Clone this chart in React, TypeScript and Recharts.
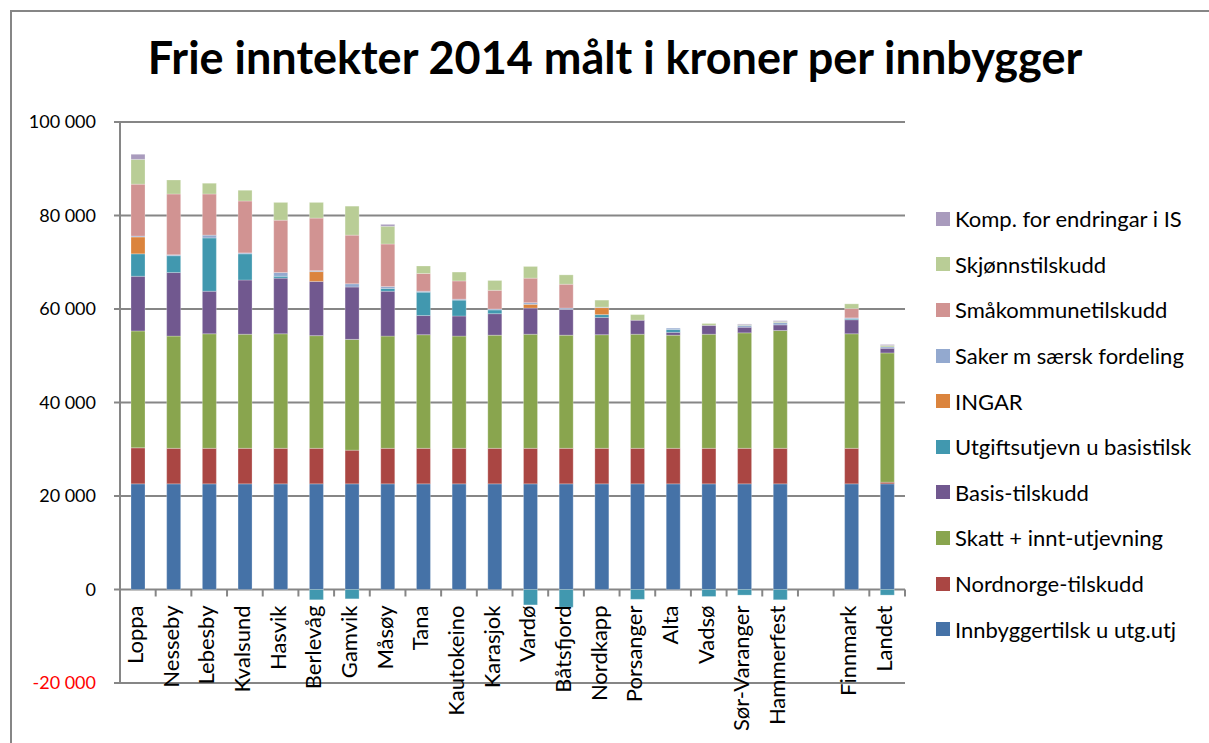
import React from 'react';
import { BarChart, Bar, XAxis, YAxis, CartesianGrid, Legend } from 'recharts';

// Kategorier (tomt felt mellom Hammerfest og Finnmark)
const kommuner = [
  'Loppa', 'Nesseby', 'Lebesby', 'Kvalsund', 'Hasvik', 'Berlevåg', 'Gamvik', 'Måsøy', 'Tana',
  'Kautokeino', 'Karasjok', 'Vardø', 'Båtsfjord', 'Nordkapp', 'Porsanger', 'Alta', 'Vadsø',
  'Sør-Varanger', 'Hammerfest', '', 'Finnmark', 'Landet',
];

const innbyggertilsk = [22600, 22600, 22600, 22600, 22600, 22600, 22600, 22600, 22600, 22600, 22600, 22600, 22600, 22600, 22600, 22600, 22600, 22600, 22600, null, 22600, 22600];
const nordnorge = [7700, 7600, 7600, 7600, 7600, 7600, 7200, 7600, 7600, 7600, 7600, 7600, 7600, 7600, 7600, 7600, 7600, 7600, 7600, null, 7600, 350];
const skatt = [25000, 24000, 24500, 24400, 24500, 24100, 23700, 24000, 24300, 24000, 24200, 24400, 24200, 24300, 24400, 24200, 24400, 24700, 25200, null, 24500, 27650];
const basis = [11700, 13600, 9100, 11600, 11900, 11600, 11200, 9600, 4100, 4300, 4600, 5600, 5500, 3700, 3000, 600, 1900, 1200, 1200, null, 3000, 1000];
const utgiftsutjevn = [4800, 3600, 11400, 5600, 400, -2200, -2000, 600, 5000, 3400, 800, -3300, -3800, 600, -2100, 600, -1500, -1200, -2200, null, 200, -1200];
const ingar = [3600, 0, 0, 0, 0, 2100, 0, 0, 0, 0, 0, 800, 0, 1500, 0, 0, 0, 0, 0, null, 0, 0];
const saker = [200, 200, 600, 200, 800, 200, 700, 400, 200, 200, 200, 350, 300, 100, 0, 300, 0, 400, 500, null, 200, 300];
const smakommune = [11100, 13000, 8800, 11100, 11200, 11250, 10400, 9100, 3800, 3900, 4000, 5250, 5100, 0, 0, 0, 0, 0, 0, null, 2000, 0];
const skjonn = [5300, 3000, 2300, 2300, 3800, 3350, 6200, 3800, 1600, 1900, 2100, 2500, 2000, 1500, 1200, 0, 400, 150, 200, null, 1000, 300];
const komp = [1100, 0, 0, 0, 0, 0, 0, 400, 0, 0, 0, 0, 0, 0, 0, 0, 0, 150, 200, null, 0, 200];

const yTicks = [-20000, 0, 20000, 40000, 60000, 80000, 100000];

const series = [
  { key: 'innbyggertilsk', name: 'Innbyggertilsk u utg.utj', color: '#4572A7', values: innbyggertilsk },
  { key: 'nordnorge', name: 'Nordnorge-tilskudd', color: '#AA4643', values: nordnorge },
  { key: 'skatt', name: 'Skatt + innt-utjevning', color: '#89A54E', values: skatt },
  { key: 'basis', name: 'Basis-tilskudd', color: '#71588F', values: basis },
  { key: 'utgiftsutjevn', name: 'Utgiftsutjevn u basistilsk', color: '#4198AF', values: utgiftsutjevn },
  { key: 'ingar', name: 'INGAR', color: '#DB843D', values: ingar },
  { key: 'saker', name: 'Saker m særsk fordeling', color: '#93A9CF', values: saker },
  { key: 'smakommune', name: 'Småkommunetilskudd', color: '#D19392', values: smakommune },
  { key: 'skjonn', name: 'Skjønnstilskudd', color: '#B9CD96', values: skjonn },
  { key: 'komp', name: 'Komp. for endringar i IS', color: '#A99BBD', values: komp },
];

const data = kommuner.map((navn, i) => {
  const row: Record<string, any> = { navn };
  series.forEach((s) => { row[s.key] = s.values[i]; });
  return row;
});

const FONT = 'Lato, "Liberation Sans", sans-serif';
const PLOT_LEFT = 120;
const PLOT_RIGHT = 905;
const PLOT_TOP = 122;
const PLOT_BOTTOM = 683;
const BAND = (PLOT_RIGHT - PLOT_LEFT) / kommuner.length;
const ZERO_Y = PLOT_TOP + (100000 / 120000) * (PLOT_BOTTOM - PLOT_TOP);

const fmt = (v: number) => {
  const s = Math.abs(v).toString().replace(/\B(?=(\d{3})+(?!\d))/g, ' ');
  return v < 0 ? `-${s}` : s;
};

const YTick = (props: any) => {
  const { y, payload } = props;
  return (
    <text x={PLOT_LEFT - 24} y={y + 6} textAnchor="end" fontSize={18} fontFamily={FONT}
      fill={payload.value < 0 ? '#FF0000' : '#000'}>
      {fmt(payload.value)}
    </text>
  );
};

// Etikettene henger fra nullinja, ikke fra bunnen av plottet
const XTick = (props: any) => {
  const { x, payload, index } = props;
  const left = x - BAND / 2;
  return (
    <g>
      <line x1={left} x2={left} y1={ZERO_Y} y2={ZERO_Y + 7} stroke="#868686" strokeWidth={2} />
      {index === kommuner.length - 1 && (
        <line x1={x + BAND / 2} x2={x + BAND / 2} y1={ZERO_Y} y2={ZERO_Y + 7} stroke="#868686" strokeWidth={2} />
      )}
      <text transform={`translate(${x + 5},${ZERO_Y + 16}) rotate(-90)`} textAnchor="end"
        fontSize={22} fontFamily={FONT} fill="#000">
        {payload.value}
      </text>
    </g>
  );
};

const LegendContent = () => (
  <div style={{ fontFamily: FONT, fontSize: 22, color: '#000' }}>
    {[...series].reverse().map((s) => (
      <div key={s.key} style={{ display: 'flex', alignItems: 'center', height: 45.6 }}>
        <span style={{ width: 14, height: 14, background: s.color, display: 'inline-block', marginRight: 5 }} />
        <span style={{ whiteSpace: 'nowrap' }}>{s.name}</span>
      </div>
    ))}
  </div>
);

export default function App() {
  return (
    <div style={{ position: 'absolute', left: 0, top: 0, width: 1209, height: 743, background: '#fff', overflow: 'hidden' }}>
      <div style={{ position: 'absolute', left: 10, top: 10, width: 1220, height: 760, border: '2px solid #868686', boxSizing: 'border-box' }} />
      <div style={{ position: 'absolute', left: 0, top: 30, width: 1230, textAlign: 'center', fontFamily: FONT, fontWeight: 700, fontSize: 45, color: '#000' }}>
        Frie inntekter 2014 målt i kroner per innbygger
      </div>
      <BarChart width={1209} height={743} data={data} stackOffset="sign"
        margin={{ top: PLOT_TOP, right: 1209 - PLOT_RIGHT, bottom: 0, left: 0 }}>
        <CartesianGrid vertical={false} stroke="#868686" strokeWidth={2} />
        <YAxis domain={[-20000, 100000]} ticks={yTicks} width={PLOT_LEFT} interval={0}
          axisLine={{ stroke: '#868686', strokeWidth: 2 }} tickLine={{ stroke: '#868686', strokeWidth: 2 }}
          tickSize={6} tick={<YTick />} />
        <XAxis dataKey="navn" height={743 - PLOT_BOTTOM} interval={0} axisLine={false} tickLine={false}
          tick={<XTick />} />
        <Legend align="center" verticalAlign="middle" content={<LegendContent />}
          wrapperStyle={{ left: 936, top: 196, width: 273 }} />
        {series.map((s) => (
          <Bar key={s.key} dataKey={s.key} name={s.name} stackId="a" fill={s.color} barSize={14}
            stroke="#ffffff" strokeOpacity={0.5} strokeWidth={0.5} isAnimationActive={false} />
        ))}
      </BarChart>
    </div>
  );
}
